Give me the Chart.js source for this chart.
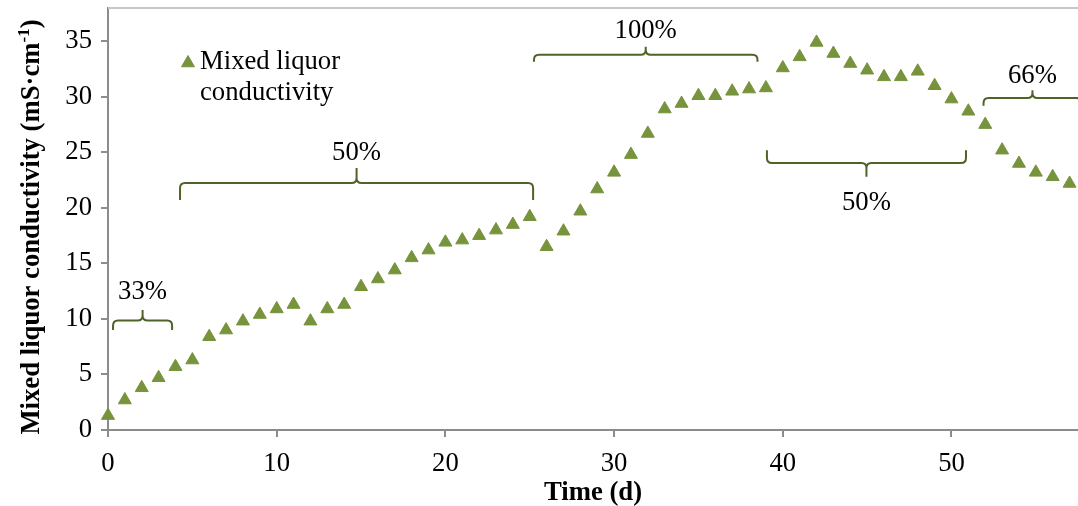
<!DOCTYPE html>
<html>
<head>
<meta charset="utf-8">
<script src="https://cdn.jsdelivr.net/npm/chart.js@4.4.1/dist/chart.umd.min.js"></script>
<style>
  html, body { margin: 0; padding: 0; background: #fff; }
  .chart-box { position: relative; width: 1078px; height: 506px; }
</style>
</head>
<body>
<div class="chart-box"><canvas id="myChart"></canvas></div>
<script>
// measured conductivity, one value per day
const days = [
  0, 1, 2, 3, 4, 5, 6, 7, 8, 9, 10, 11, 12, 13, 14, 15, 16, 17, 18, 19,
  20, 21, 22, 23, 24, 25, 26, 27, 28, 29, 30, 31, 32, 33, 34, 35, 36, 37, 38, 39,
  40, 41, 42, 43, 44, 45, 46, 47, 48, 49, 50, 51, 52, 53, 54, 55, 56, 57
];
const conductivity = [
  1.3, 2.7, 3.8, 4.7, 5.7, 6.3, 8.4, 9.0, 9.8, 10.4, 10.9, 11.3, 9.8, 10.9, 11.3, 12.9, 13.6, 14.4, 15.5, 16.2,
  16.9, 17.1, 17.5, 18.0, 18.5, 19.2, 16.5, 17.9, 19.7, 21.7, 23.2, 24.8, 26.7, 28.9, 29.4, 30.1, 30.1, 30.5, 30.7, 30.8,
  32.6, 33.6, 34.9, 33.9, 33.0, 32.4, 31.8, 31.8, 32.3, 31.0, 29.8, 28.7, 27.5, 25.2, 24.0, 23.2, 22.8, 22.2
];

const xTicks = [0, 10, 20, 30, 40, 50];
const yTicks = [0, 5, 10, 15, 20, 25, 30, 35];

// feed-ratio periods marked with braces (days / mS·cm-1)
const braceLabels = ["33%", "50%", "100%", "50%", "66%"];
const braceFrom = [0.3, 4.27, 25.25, 39.06, 51.9];
const braceTo = [3.8, 25.2, 38.5, 50.86, 57.7];
const braceLevel = [9.85, 22.25, 33.8, 24.05, 29.9];
const braceFoot = [9.0, 20.7, 33.15, 25.2, 29.2];
const braceTip = [10.8, 23.6, 34.5, 22.8, 30.6];
const braceTextY = [12.4, 24.9, 35.9, 20.4, 31.9];

const legendLines = ["Mixed liquor", "conductivity"];

const serif = "'Liberation Serif', 'Times New Roman', serif";
const olive = "#77933c";
const braceColor = "#4f6228";
const axisGray = "#8c8c8c";
const fontSize = 26.7;
const markerRadius = 7.5;

let myChart;

const drawBrace = (ctx, x1, x2, xm, yl, yf, yt) => {
  const rc = Math.min(5, Math.abs(yf - yl));
  const rt = Math.min(5, Math.abs(yt - yl));
  const sf = Math.sign(yf - yl);
  const st = Math.sign(yt - yl);
  ctx.beginPath();
  ctx.moveTo(x1, yf);
  ctx.lineTo(x1, yl + sf * rc);
  ctx.quadraticCurveTo(x1, yl, x1 + rc, yl);
  ctx.lineTo(xm - rt, yl);
  ctx.quadraticCurveTo(xm, yl, xm, yl + st * rt);
  ctx.lineTo(xm, yt);
  ctx.moveTo(xm, yl + st * rt);
  ctx.quadraticCurveTo(xm, yl, xm + rt, yl);
  ctx.lineTo(x2 - rc, yl);
  ctx.quadraticCurveTo(x2, yl, x2, yl + sf * rc);
  ctx.lineTo(x2, yf);
  ctx.stroke();
};

const drawTriangle = (ctx, x, y, r) => {
  ctx.beginPath();
  ctx.moveTo(x, y - r);
  ctx.lineTo(x + r * 0.866, y + r * 0.5);
  ctx.lineTo(x - r * 0.866, y + r * 0.5);
  ctx.closePath();
  ctx.fill();
  ctx.stroke();
};

// scales reserve room for half a label at their ends; the plot here runs edge to edge
const noScalePadding = (axis) => {
  axis.paddingTop = 0;
  axis.paddingBottom = 0;
  axis.paddingLeft = 0;
  axis.paddingRight = 0;
};

const extrasPlugin = {
  id: "extras",
  beforeDatasetsDraw(chart) {
    const { ctx, chartArea } = chart;
    // frame line along the top of the plot
    ctx.save();
    ctx.strokeStyle = "#c6c6c6";
    ctx.lineWidth = 2;
    ctx.beginPath();
    ctx.moveTo(chartArea.left, chartArea.top);
    ctx.lineTo(chart.width, chartArea.top);
    ctx.stroke();
    ctx.restore();
  },
  afterDatasetsDraw(chart) {
    const { ctx, chartArea, scales } = chart;
    const sx = scales.x;
    const sy = scales.y;

    ctx.save();
    ctx.strokeStyle = braceColor;
    ctx.lineWidth = 2;
    ctx.lineJoin = "round";
    ctx.fillStyle = "#000";
    ctx.font = `${fontSize}px ${serif}`;
    ctx.textAlign = "center";
    ctx.textBaseline = "middle";
    braceLabels.forEach((label, i) => {
      const x1 = sx.getPixelForValue(braceFrom[i]);
      const x2 = sx.getPixelForValue(braceTo[i]);
      const xm = (x1 + x2) / 2;
      drawBrace(ctx, x1, x2, xm,
        sy.getPixelForValue(braceLevel[i]),
        sy.getPixelForValue(braceFoot[i]),
        sy.getPixelForValue(braceTip[i]));
      ctx.fillText(label, xm, sy.getPixelForValue(braceTextY[i]));
    });
    ctx.restore();

    // legend inside the plot
    const lx = chartArea.left + 80;
    const ly = chartArea.top + 55;
    ctx.save();
    ctx.fillStyle = olive;
    ctx.strokeStyle = olive;
    ctx.lineWidth = 1;
    drawTriangle(ctx, lx, ly, markerRadius);
    ctx.fillStyle = "#000";
    ctx.font = `${fontSize}px ${serif}`;
    ctx.textAlign = "left";
    ctx.textBaseline = "alphabetic";
    legendLines.forEach((line, i) => {
      ctx.fillText(line, lx + 12, ly + 6 + i * 31);
    });
    ctx.restore();

    // y axis title with superscript
    const main = "Mixed liquor conductivity (mS·cm";
    const sup = "-1";
    const close = ")";
    const boldFont = `bold ${fontSize}px ${serif}`;
    const supFont = `bold 17px ${serif}`;
    ctx.save();
    ctx.translate(30, 227);
    ctx.rotate(-Math.PI / 2);
    ctx.fillStyle = "#000";
    ctx.textBaseline = "alphabetic";
    ctx.textAlign = "left";
    ctx.font = boldFont;
    const wMain = ctx.measureText(main).width;
    const wClose = ctx.measureText(close).width;
    ctx.font = supFont;
    const wSup = ctx.measureText(sup).width;
    let tx = -(wMain + wSup + wClose) / 2;
    const base = 9;
    ctx.font = boldFont;
    ctx.fillText(main, tx, base);
    tx += wMain;
    ctx.font = supFont;
    ctx.fillText(sup, tx, base - 10);
    tx += wSup;
    ctx.font = boldFont;
    ctx.fillText(close, tx, base);
    ctx.restore();
  }
};

const displayChart = () => {
  const ctx = document.getElementById("myChart").getContext("2d");
  const points = days.map((d, i) => ({ x: d, y: conductivity[i] }));
  const tickFont = { family: serif, size: fontSize };

  myChart = new Chart(ctx, {
    type: "scatter",
    data: {
      datasets: [
        {
          label: legendLines.join(" "),
          data: points,
          pointStyle: "triangle",
          pointRadius: markerRadius,
          pointHoverRadius: markerRadius,
          backgroundColor: olive,
          borderColor: olive,
          borderWidth: 1,
          clip: false,
        },
      ],
    },
    options: {
      responsive: true,
      maintainAspectRatio: false,
      animation: false,
      layout: { autoPadding: false, padding: { top: 8, left: 0, right: 0, bottom: 0 } },
      plugins: {
        legend: { display: false },
        tooltip: { enabled: false },
      },
      scales: {
        x: {
          type: "linear",
          min: 0,
          max: 57.5,
          afterBuildTicks: (axis) => {
            axis.ticks = xTicks.map((v) => ({ value: v }));
          },
          afterFit: (axis) => {
            axis.height = 76;
            noScalePadding(axis);
          },
          ticks: { font: tickFont, color: "#000", padding: 11, maxRotation: 0 },
          grid: { drawOnChartArea: false, tickLength: 7, color: axisGray, lineWidth: 2 },
          border: { color: axisGray, width: 2 },
          title: {
            display: true,
            text: "Time (d)",
            color: "#000",
            font: { family: serif, size: fontSize, weight: "bold", lineHeight: 1 },
            padding: { top: 0, bottom: 0 },
          },
        },
        y: {
          min: 0,
          max: 38,
          afterBuildTicks: (axis) => {
            axis.ticks = yTicks.map((v) => ({ value: v }));
          },
          afterFit: (axis) => {
            axis.width = 108;
            noScalePadding(axis);
          },
          ticks: { font: tickFont, color: "#000", padding: 9 },
          grid: { drawOnChartArea: false, tickLength: 7, color: axisGray, lineWidth: 2 },
          border: { color: axisGray, width: 2 },
        },
      },
    },
    plugins: [extrasPlugin],
  });
};

displayChart();
</script>
</body>
</html>
